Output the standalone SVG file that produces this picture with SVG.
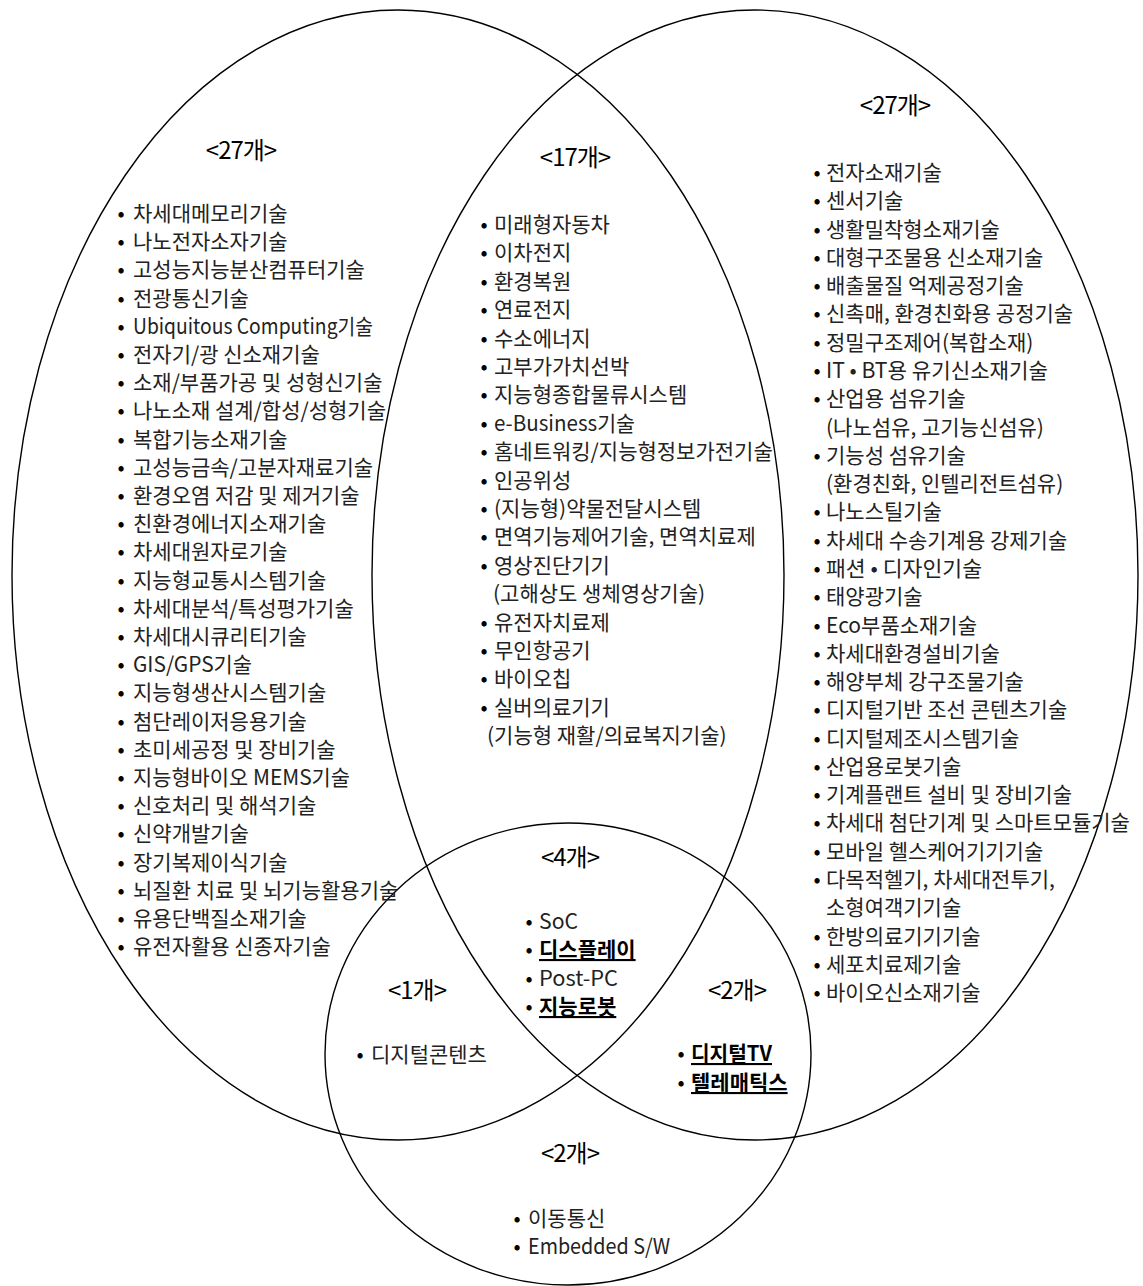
<svg xmlns="http://www.w3.org/2000/svg" width="1143" height="1286" viewBox="0 0 1143 1286">
<style>
.ring{fill:none;stroke:#000;stroke-width:1.4}
text{font-family:"Noto Sans CJK KR","Noto Sans",sans-serif;fill:#222;font-size:21px}
.h{font-size:24px;fill:#000;text-anchor:middle;letter-spacing:-1px}
.b{text-anchor:middle;fill:#000}
.u{font-weight:bold;text-decoration:underline;fill:#000}
</style>
<rect width="1143" height="1286" fill="#fff"/>
<g id="connectors">
<ellipse id="setA" class="ring" cx="398" cy="575" rx="386" ry="565"/>
<ellipse id="setB" class="ring" cx="755" cy="575" rx="383" ry="565"/>
<ellipse id="setC" class="ring" cx="568" cy="1054" rx="243" ry="231"/>
</g>
<g id="node-left">
<text class="h" x="241" y="159">&lt;27개&gt;</text>
<text y="221"><tspan class="b" x="121">•</tspan><tspan x="133">차세대메모리기술</tspan></text>
<text y="249.2"><tspan class="b" x="121">•</tspan><tspan x="133">나노전자소자기술</tspan></text>
<text y="277.4"><tspan class="b" x="121">•</tspan><tspan x="133">고성능지능분산컴퓨터기술</tspan></text>
<text y="305.6"><tspan class="b" x="121">•</tspan><tspan x="133">전광통신기술</tspan></text>
<text y="333.8"><tspan class="b" x="121">•</tspan><tspan x="133" textLength="240" lengthAdjust="spacingAndGlyphs">Ubiquitous Computing기술</tspan></text>
<text y="362"><tspan class="b" x="121">•</tspan><tspan x="133">전자기/광 신소재기술</tspan></text>
<text y="390.2"><tspan class="b" x="121">•</tspan><tspan x="133">소재/부품가공 및 성형신기술</tspan></text>
<text y="418.4"><tspan class="b" x="121">•</tspan><tspan x="133">나노소재 설계/합성/성형기술</tspan></text>
<text y="446.6"><tspan class="b" x="121">•</tspan><tspan x="133">복합기능소재기술</tspan></text>
<text y="474.8"><tspan class="b" x="121">•</tspan><tspan x="133">고성능금속/고분자재료기술</tspan></text>
<text y="503"><tspan class="b" x="121">•</tspan><tspan x="133">환경오염 저감 및 제거기술</tspan></text>
<text y="531.2"><tspan class="b" x="121">•</tspan><tspan x="133">친환경에너지소재기술</tspan></text>
<text y="559.4"><tspan class="b" x="121">•</tspan><tspan x="133">차세대원자로기술</tspan></text>
<text y="587.6"><tspan class="b" x="121">•</tspan><tspan x="133">지능형교통시스템기술</tspan></text>
<text y="615.8"><tspan class="b" x="121">•</tspan><tspan x="133">차세대분석/특성평가기술</tspan></text>
<text y="644"><tspan class="b" x="121">•</tspan><tspan x="133">차세대시큐리티기술</tspan></text>
<text y="672.2"><tspan class="b" x="121">•</tspan><tspan x="133" textLength="119" lengthAdjust="spacingAndGlyphs">GIS/GPS기술</tspan></text>
<text y="700.4"><tspan class="b" x="121">•</tspan><tspan x="133">지능형생산시스템기술</tspan></text>
<text y="728.6"><tspan class="b" x="121">•</tspan><tspan x="133">첨단레이저응용기술</tspan></text>
<text y="756.8"><tspan class="b" x="121">•</tspan><tspan x="133">초미세공정 및 장비기술</tspan></text>
<text y="785"><tspan class="b" x="121">•</tspan><tspan x="133" textLength="217" lengthAdjust="spacingAndGlyphs">지능형바이오 MEMS기술</tspan></text>
<text y="813.2"><tspan class="b" x="121">•</tspan><tspan x="133">신호처리 및 해석기술</tspan></text>
<text y="841.4"><tspan class="b" x="121">•</tspan><tspan x="133">신약개발기술</tspan></text>
<text y="869.6"><tspan class="b" x="121">•</tspan><tspan x="133">장기복제이식기술</tspan></text>
<text y="897.8"><tspan class="b" x="121">•</tspan><tspan x="133">뇌질환 치료 및 뇌기능활용기술</tspan></text>
<text y="926"><tspan class="b" x="121">•</tspan><tspan x="133">유용단백질소재기술</tspan></text>
<text y="954.2"><tspan class="b" x="121">•</tspan><tspan x="133">유전자활용 신종자기술</tspan></text>
</g>
<g id="node-middle">
<text class="h" x="575" y="166">&lt;17개&gt;</text>
<text y="232"><tspan class="b" x="484">•</tspan><tspan x="494">미래형자동차</tspan></text>
<text y="260.4"><tspan class="b" x="484">•</tspan><tspan x="494">이차전지</tspan></text>
<text y="288.8"><tspan class="b" x="484">•</tspan><tspan x="494">환경복원</tspan></text>
<text y="317.2"><tspan class="b" x="484">•</tspan><tspan x="494">연료전지</tspan></text>
<text y="345.6"><tspan class="b" x="484">•</tspan><tspan x="494">수소에너지</tspan></text>
<text y="374"><tspan class="b" x="484">•</tspan><tspan x="494">고부가가치선박</tspan></text>
<text y="402.4"><tspan class="b" x="484">•</tspan><tspan x="494">지능형종합물류시스템</tspan></text>
<text y="430.8"><tspan class="b" x="484">•</tspan><tspan x="494" textLength="141" lengthAdjust="spacingAndGlyphs">e-Business기술</tspan></text>
<text y="459.2"><tspan class="b" x="484">•</tspan><tspan x="494">홈네트워킹/지능형정보가전기술</tspan></text>
<text y="487.6"><tspan class="b" x="484">•</tspan><tspan x="494">인공위성</tspan></text>
<text y="516"><tspan class="b" x="484">•</tspan><tspan x="494">(지능형)약물전달시스템</tspan></text>
<text y="544.4"><tspan class="b" x="484">•</tspan><tspan x="494">면역기능제어기술, 면역치료제</tspan></text>
<text y="572.8"><tspan class="b" x="484">•</tspan><tspan x="494">영상진단기기</tspan></text>
<text x="493" y="601.2">(고해상도 생체영상기술)</text>
<text y="629.6"><tspan class="b" x="484">•</tspan><tspan x="494">유전자치료제</tspan></text>
<text y="658"><tspan class="b" x="484">•</tspan><tspan x="494">무인항공기</tspan></text>
<text y="686.4"><tspan class="b" x="484">•</tspan><tspan x="494">바이오칩</tspan></text>
<text y="714.8"><tspan class="b" x="484">•</tspan><tspan x="494">실버의료기기</tspan></text>
<text x="487" y="743.2">(기능형 재활/의료복지기술)</text>
</g>
<g id="node-right">
<text class="h" x="895" y="114">&lt;27개&gt;</text>
<text y="180"><tspan class="b" x="817">•</tspan><tspan x="826">전자소재기술</tspan></text>
<text y="208.3"><tspan class="b" x="817">•</tspan><tspan x="826">센서기술</tspan></text>
<text y="236.6"><tspan class="b" x="817">•</tspan><tspan x="826">생활밀착형소재기술</tspan></text>
<text y="264.8"><tspan class="b" x="817">•</tspan><tspan x="826">대형구조물용 신소재기술</tspan></text>
<text y="293.1"><tspan class="b" x="817">•</tspan><tspan x="826">배출물질 억제공정기술</tspan></text>
<text y="321.4"><tspan class="b" x="817">•</tspan><tspan x="826">신촉매, 환경친화용 공정기술</tspan></text>
<text y="349.7"><tspan class="b" x="817">•</tspan><tspan x="826">정밀구조제어(복합소재)</tspan></text>
<text y="378"><tspan class="b" x="817">•</tspan><tspan x="826" textLength="222" lengthAdjust="spacingAndGlyphs">IT • BT용 유기신소재기술</tspan></text>
<text y="406.2"><tspan class="b" x="817">•</tspan><tspan x="826">산업용 섬유기술</tspan></text>
<text x="826" y="434.5">(나노섬유, 고기능신섬유)</text>
<text y="462.8"><tspan class="b" x="817">•</tspan><tspan x="826">기능성 섬유기술</tspan></text>
<text x="826" y="491.1">(환경친화, 인텔리전트섬유)</text>
<text y="519.4"><tspan class="b" x="817">•</tspan><tspan x="826">나노스틸기술</tspan></text>
<text y="547.6"><tspan class="b" x="817">•</tspan><tspan x="826">차세대 수송기계용 강제기술</tspan></text>
<text y="575.9"><tspan class="b" x="817">•</tspan><tspan x="826" textLength="156" lengthAdjust="spacingAndGlyphs">패션 • 디자인기술</tspan></text>
<text y="604.2"><tspan class="b" x="817">•</tspan><tspan x="826">태양광기술</tspan></text>
<text y="632.5"><tspan class="b" x="817">•</tspan><tspan x="826" textLength="151" lengthAdjust="spacingAndGlyphs">Eco부품소재기술</tspan></text>
<text y="660.8"><tspan class="b" x="817">•</tspan><tspan x="826">차세대환경설비기술</tspan></text>
<text y="689"><tspan class="b" x="817">•</tspan><tspan x="826">해양부체 강구조물기술</tspan></text>
<text y="717.3"><tspan class="b" x="817">•</tspan><tspan x="826">디지털기반 조선 콘텐츠기술</tspan></text>
<text y="745.6"><tspan class="b" x="817">•</tspan><tspan x="826">디지털제조시스템기술</tspan></text>
<text y="773.9"><tspan class="b" x="817">•</tspan><tspan x="826">산업용로봇기술</tspan></text>
<text y="802.2"><tspan class="b" x="817">•</tspan><tspan x="826">기계플랜트 설비 및 장비기술</tspan></text>
<text y="830.4"><tspan class="b" x="817">•</tspan><tspan x="826">차세대 첨단기계 및 스마트모듈기술</tspan></text>
<text y="858.7"><tspan class="b" x="817">•</tspan><tspan x="826">모바일 헬스케어기기기술</tspan></text>
<text y="887"><tspan class="b" x="817">•</tspan><tspan x="826">다목적헬기, 차세대전투기,</tspan></text>
<text x="826" y="915.3">소형여객기기술</text>
<text y="943.6"><tspan class="b" x="817">•</tspan><tspan x="826">한방의료기기기술</tspan></text>
<text y="971.8"><tspan class="b" x="817">•</tspan><tspan x="826">세포치료제기술</tspan></text>
<text y="1000.1"><tspan class="b" x="817">•</tspan><tspan x="826">바이오신소재기술</tspan></text>
</g>
<g id="node-center">
<text class="h" x="570" y="866">&lt;4개&gt;</text>
<text y="929"><tspan class="b" x="529">•</tspan><tspan x="539" textLength="39" lengthAdjust="spacingAndGlyphs">SoC</tspan></text>
<text y="957"><tspan class="b" x="529">•</tspan><tspan x="539" class="u">디스플레이</tspan></text>
<text y="986"><tspan class="b" x="529">•</tspan><tspan x="539" textLength="79" lengthAdjust="spacingAndGlyphs">Post-PC</tspan></text>
<text y="1014"><tspan class="b" x="529">•</tspan><tspan x="539" class="u">지능로봇</tspan></text>
</g>
<g id="node-left-bottom">
<text class="h" x="417" y="999">&lt;1개&gt;</text>
<text y="1062"><tspan class="b" x="360">•</tspan><tspan x="371">디지털콘텐츠</tspan></text>
</g>
<g id="node-right-bottom">
<text class="h" x="737" y="999">&lt;2개&gt;</text>
<text y="1061"><tspan class="b" x="681">•</tspan><tspan x="691" class="u" textLength="81" lengthAdjust="spacingAndGlyphs">디지털TV</tspan></text>
<text y="1090"><tspan class="b" x="681">•</tspan><tspan x="691" class="u">텔레매틱스</tspan></text>
</g>
<g id="node-bottom">
<text class="h" x="570" y="1162">&lt;2개&gt;</text>
<text y="1226"><tspan class="b" x="517">•</tspan><tspan x="528">이동통신</tspan></text>
<text y="1254"><tspan class="b" x="517">•</tspan><tspan x="528" textLength="142" lengthAdjust="spacingAndGlyphs">Embedded S/W</tspan></text>
</g>
</svg>
